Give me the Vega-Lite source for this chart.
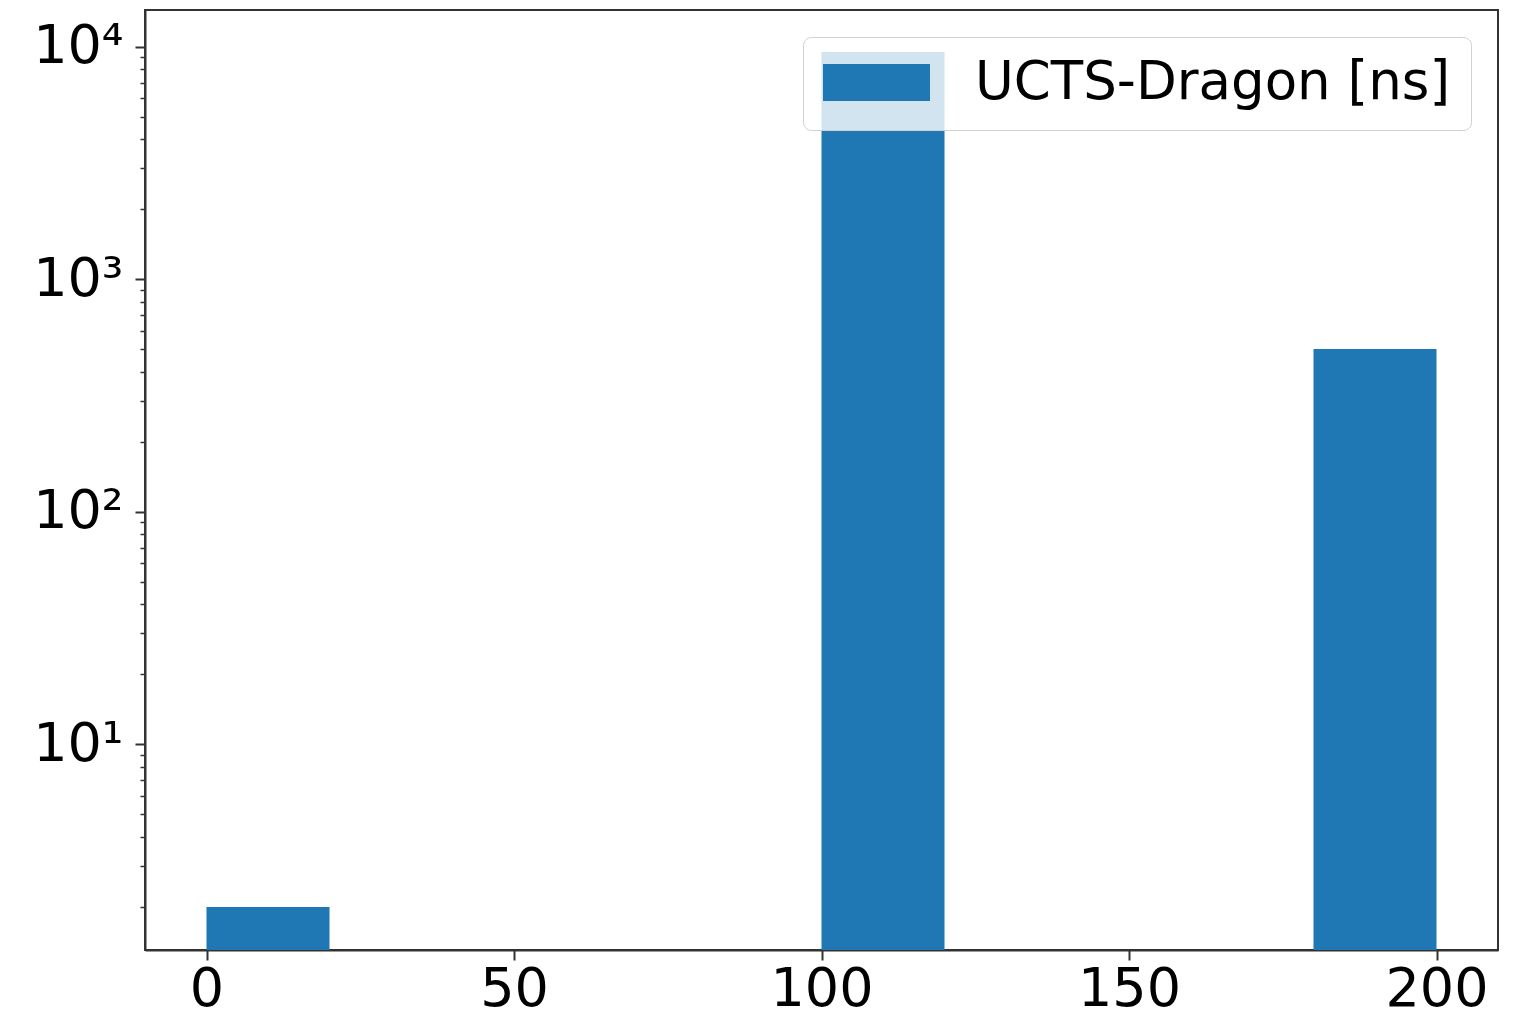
{
  "$schema": "https://vega.github.io/schema/vega-lite/v6.json",
  "autosize": "none",
  "width": 1353,
  "height": 940,
  "padding": {"left": 145, "top": 10, "right": 27, "bottom": 67},
  "background": "white",
  "config": {
    "font": "DejaVu Sans",
    "view": {"stroke": "#333333", "strokeWidth": 2},
    "axis": {
      "grid": false,
      "domainColor": "#333333",
      "domainWidth": 2,
      "tickColor": "#333333",
      "tickWidth": 2,
      "labelFont": "DejaVu Sans",
      "labelFontSize": 54,
      "labelColor": "black",
      "title": null
    }
  },
  "data": {
    "values": [
      {"bin_start": 0, "bin_end": 20, "count": 2, "series": "UCTS-Dragon [ns]"},
      {"bin_start": 100, "bin_end": 120, "count": 9490, "series": "UCTS-Dragon [ns]"},
      {"bin_start": 180, "bin_end": 200, "count": 502, "series": "UCTS-Dragon [ns]"}
    ]
  },
  "mark": {"type": "bar", "clip": true},
  "encoding": {
    "x": {
      "field": "bin_start",
      "type": "quantitative",
      "scale": {"domain": [-10, 210], "nice": false, "zero": false},
      "axis": {
        "values": [0, 50, 100, 150, 200],
        "tickSize": 10,
        "labelPadding": 2,
        "labelOverlap": false,
        "labelFlush": false
      }
    },
    "x2": {"field": "bin_end"},
    "y": {
      "field": "count",
      "type": "quantitative",
      "scale": {"type": "log", "domain": [1.307, 14376], "nice": false},
      "axis": {
        "values": [2, 3, 4, 5, 6, 7, 8, 9, 10, 20, 30, 40, 50, 60, 70, 80, 90, 100, 200, 300, 400, 500, 600, 700, 800, 900, 1000, 2000, 3000, 4000, 5000, 6000, 7000, 8000, 9000, 10000],
        "labelExpr": "datum.value == 10 ? '10¹' : datum.value == 100 ? '10²' : datum.value == 1000 ? '10³' : datum.value == 10000 ? '10⁴' : ''",
        "tickSize": {"condition": {"test": "datum.value == 10 || datum.value == 100 || datum.value == 1000 || datum.value == 10000", "value": 10}, "value": 5},
        "tickWidth": {"condition": {"test": "datum.value == 10 || datum.value == 100 || datum.value == 1000 || datum.value == 10000", "value": 2}, "value": 1.5},
        "labelPadding": 12,
        "labelOverlap": false,
        "labelBound": false,
        "labelFlush": false
      }
    },
    "y2": {"datum": 1},
    "color": {
      "field": "series",
      "type": "nominal",
      "scale": {"domain": ["UCTS-Dragon [ns]"], "range": ["#1f77b4"]},
      "legend": {
        "title": null,
        "orient": "top-right",
        "offset": 27,
        "labelFont": "DejaVu Sans",
        "labelFontSize": 53,
        "labelColor": "black",
        "labelLimit": 0,
        "labelOffset": 45,
        "symbolType": "M-1,-0.346L1,-0.346L1,0.346L-1,0.346Z",
        "symbolSize": 11449,
        "symbolStrokeWidth": 0,
        "symbolOpacity": 1,
        "clipHeight": 51,
        "fillColor": "rgba(255,255,255,0.8)",
        "strokeColor": "#d0d0d0",
        "cornerRadius": 8,
        "padding": 20
      }
    }
  }
}
